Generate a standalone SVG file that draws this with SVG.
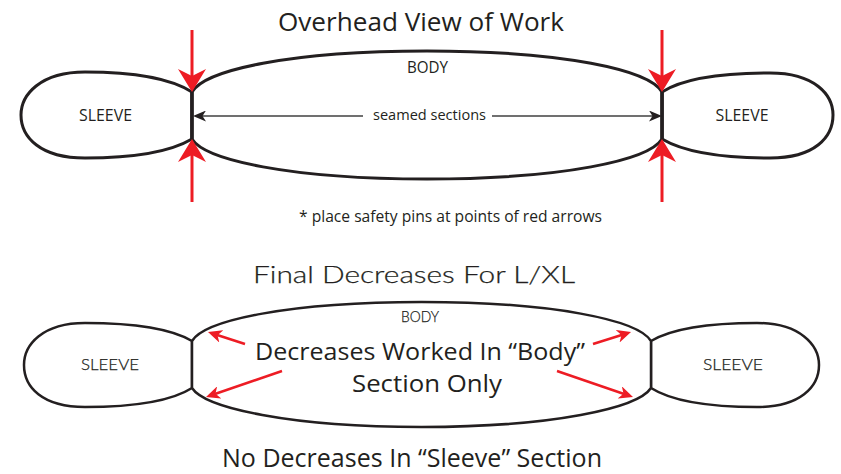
<svg xmlns="http://www.w3.org/2000/svg" width="841" height="474" viewBox="0 0 841 474">
<style>
.shape{fill:#fff;stroke:#231f20;stroke-width:3;stroke-linejoin:round}
.shape2{fill:#fff;stroke:#231f20;stroke-width:2.5;stroke-linejoin:round}
.seam{stroke:#231f20;stroke-width:3.5;fill:none}
.red{stroke:#ed1c24;stroke-width:3;fill:none}
.red2{stroke:#ed1c24;stroke-width:2.5;fill:none}
.blk{stroke:#404040;stroke-width:1.6;fill:none}
.t{font-family:"Open Sans","Liberation Sans",sans-serif;fill:#231f20;text-anchor:middle}
.l{font-family:Lato,"Open Sans","Liberation Sans",sans-serif;font-weight:300;fill:#231f20;stroke:#231f20;stroke-width:0.25;text-anchor:middle}
</style>
<defs>
<marker id="redHead" markerUnits="userSpaceOnUse" markerWidth="23" markerHeight="28" viewBox="0 0 23 28" refX="15" refY="14" orient="auto">
<path d="M0,0 L23,14 L0,28 L7,14 Z" fill="#ed1c24"/>
</marker>
<marker id="redSmall" markerUnits="userSpaceOnUse" markerWidth="14" markerHeight="13" viewBox="0 0 14 13" refX="10" refY="6.5" orient="auto">
<path d="M0,0 L14,6.5 L0,13 L4,6.5 Z" fill="#ed1c24"/>
</marker>
<marker id="blkHead" markerUnits="userSpaceOnUse" markerWidth="13" markerHeight="11" viewBox="0 0 13 11" refX="9" refY="5.5" orient="auto">
<path d="M0,0 L13,5.5 L0,11 L3.5,5.5 Z" fill="#231f20"/>
</marker>
</defs>

<text class="t" x="421" y="31" font-size="26" textLength="286" lengthAdjust="spacingAndGlyphs">Overhead View of Work</text>

<g id="top-left-sleeve">
<path class="shape" d="M192,92 C170,78 130,72 85,72 C40,72 21,95 21,115 C21,137 40,158 85,158 C130,158 170,152 192,139 Z"/>
<text class="t" x="105.5" y="121" font-size="16" textLength="53" lengthAdjust="spacingAndGlyphs">SLEEVE</text>
</g>
<g id="top-right-sleeve">
<path class="shape" d="M662,92 C684,78 724,73 770,73 C815,73 833,95 833,115 C833,137 815,158 770,158 C724,158 684,152 662,139 Z"/>
<text class="t" x="742" y="121" font-size="16" textLength="53" lengthAdjust="spacingAndGlyphs">SLEEVE</text>
</g>
<g id="top-body">
<path class="shape" d="M192,92 C205,70 290,51 427,51 C564,51 649,70 662,92 L662,139 C649,160 564,179 427,179 C290,179 205,160 192,139 Z"/>
<text class="t" x="427.5" y="73" font-size="16" textLength="41" lengthAdjust="spacingAndGlyphs">BODY</text>
<text class="t" x="429.5" y="120" font-size="15" textLength="113" lengthAdjust="spacingAndGlyphs">seamed sections</text>
</g>

<text class="t" x="450.5" y="222" font-size="16" textLength="303" lengthAdjust="spacingAndGlyphs">* place safety pins at points of red arrows</text>

<text class="l" x="414" y="283" font-size="23" textLength="322" lengthAdjust="spacingAndGlyphs">Final Decreases For L/XL</text>

<g id="bottom-left-sleeve">
<path class="shape2" d="M192,341 C170,328 130,323 85,323 C42,323 24,345 24,365 C24,387 42,407 85,407 C130,407 170,402 192,388 Z"/>
<text class="l" x="110" y="370" font-size="16" textLength="58" lengthAdjust="spacingAndGlyphs">SLEEVE</text>
</g>
<g id="bottom-right-sleeve">
<path class="shape2" d="M651,341 C673,328 713,323 757,323 C800,323 819,345 819,365 C819,387 800,407 757,407 C713,407 673,402 651,388 Z"/>
<text class="l" x="733" y="370" font-size="16" textLength="60" lengthAdjust="spacingAndGlyphs">SLEEVE</text>
</g>
<g id="bottom-body">
<path class="shape2" d="M192,341 C205,320 290,302 421.5,302 C553,302 638,320 651,341 L651,388 C638,408 553,427 421.5,427 C290,427 205,408 192,388 Z"/>
<text class="l" x="420" y="322" font-size="15" textLength="38" lengthAdjust="spacingAndGlyphs">BODY</text>
<text class="t" x="420" y="360" font-size="24" textLength="330" lengthAdjust="spacingAndGlyphs">Decreases Worked In “Body”</text>
<text class="t" x="427" y="392" font-size="24" textLength="150" lengthAdjust="spacingAndGlyphs">Section Only</text>
</g>

<text class="t" x="412" y="467" font-size="26" textLength="380" lengthAdjust="spacingAndGlyphs">No Decreases In “Sleeve” Section</text>

<g id="connectors">
<line class="seam" x1="192" y1="92" x2="192" y2="139"/>
<line class="seam" x1="662" y1="92" x2="662" y2="139"/>
<line class="blk" x1="363" y1="116" x2="197" y2="116" marker-end="url(#blkHead)"/>
<line class="blk" x1="492" y1="116" x2="658" y2="116" marker-end="url(#blkHead)"/>
<line class="red" x1="192" y1="30" x2="192" y2="84" marker-end="url(#redHead)"/>
<line class="red" x1="192" y1="202" x2="192" y2="147" marker-end="url(#redHead)"/>
<line class="red" x1="662" y1="30" x2="662" y2="84" marker-end="url(#redHead)"/>
<line class="red" x1="662" y1="202" x2="662" y2="147" marker-end="url(#redHead)"/>
<line class="red2" x1="245" y1="344" x2="211.8" y2="333.3" marker-end="url(#redSmall)"/>
<line class="red2" x1="282" y1="371" x2="209.8" y2="395.7" marker-end="url(#redSmall)"/>
<line class="red2" x1="593" y1="344" x2="627.2" y2="333.3" marker-end="url(#redSmall)"/>
<line class="red2" x1="557" y1="371" x2="629.2" y2="395.7" marker-end="url(#redSmall)"/>
</g>
</svg>
